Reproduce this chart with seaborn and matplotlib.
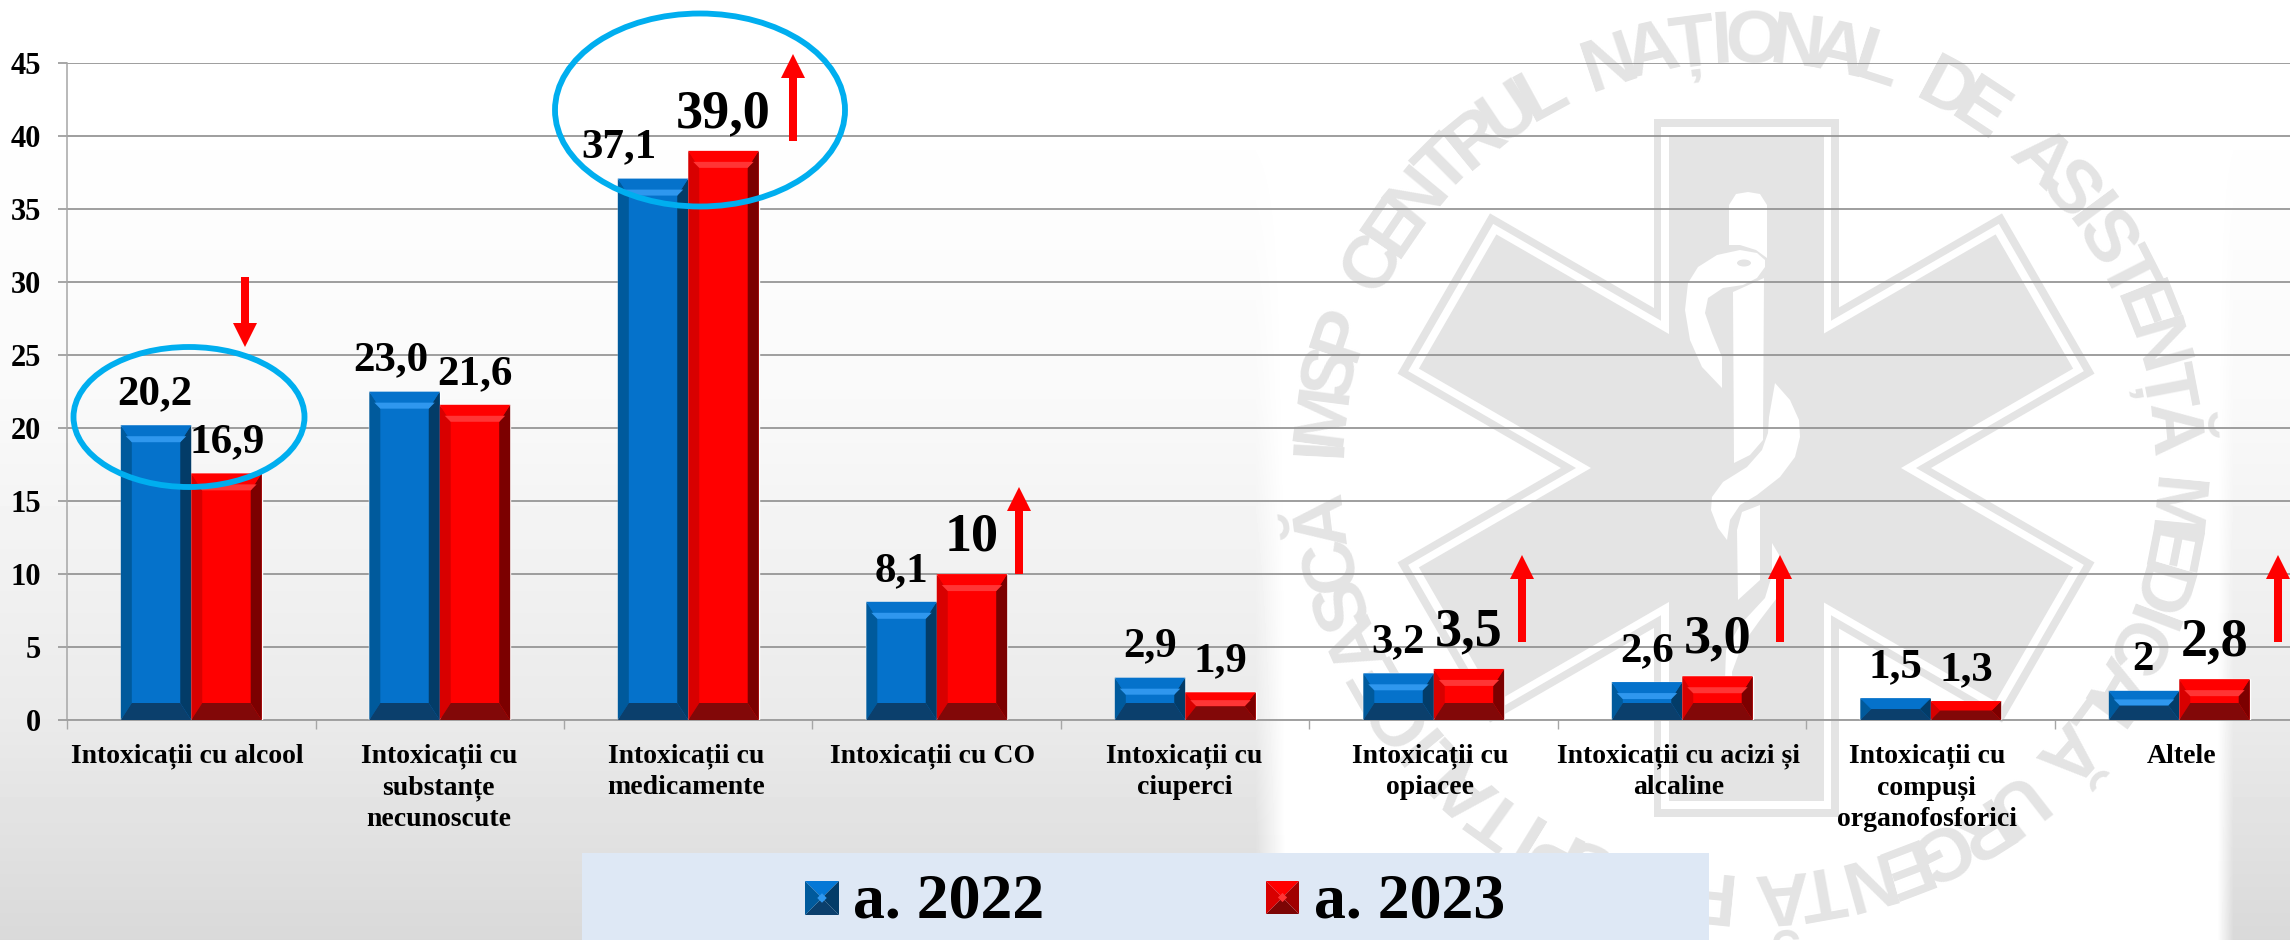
import numpy as np
import pandas as pd
import seaborn as sns
import matplotlib
matplotlib.use('Agg')
import matplotlib.pyplot as plt
from matplotlib.patches import Polygon, Ellipse, Rectangle
from matplotlib.transforms import Affine2D, ScaledTranslation
from matplotlib.textpath import TextPath
from matplotlib.font_manager import FontProperties

# data
categories = ['Intoxicații cu alcool', 'Intoxicații cu\nsubstanțe\nnecunoscute',
              'Intoxicații cu\nmedicamente', 'Intoxicații cu CO',
              'Intoxicații cu\nciuperci', 'Intoxicații cu\nopiacee',
              'Intoxicații cu acizi și\nalcaline',
              'Intoxicații cu\ncompuși\norganofosforici', 'Altele']
years = ['a. 2022', 'a. 2023']
values_2022 = [20.2, 22.5, 37.1, 8.1, 2.9, 3.2, 2.6, 1.5, 2.0]
values_2023 = [16.9, 21.6, 39.0, 10.0, 1.9, 3.5, 3.0, 1.3, 2.8]
labels_2022 = ['20,2', '23,0', '37,1', '8,1', '2,9', '3,2', '2,6', '1,5', '2']
labels_2023 = ['16,9', '21,6', '39,0', '10', '1,9', '3,5', '3,0', '1,3', '2,8']
y_ticks = [0, 5, 10, 15, 20, 25, 30, 35, 40, 45]

# label nudges in pixels, the big labels are the ones that went up
dx_2022 = [-1, -14, -34, 0, 0, 0, 0, 0, -1]
dx_2023 = [1, 0, 0, 0, 0, 0, 0, 0, 0]
big_2023 = [False, False, True, True, False, True, True, False, True]
dx_cat = [-4, -1, -2, -4, -1, -4, -4, -4, 2]

W, H = 2290, 940
AX_LEFT, AX_RIGHT, AX_TOP, AX_BOTTOM = 67, 2290, 63.3, 720
CAT_W = 248.5
SERIF = 'Liberation Serif'
GREY = '#8e8e8e'
STAR = '#e4e4e4'

sns.set_theme(style='white')
plt.rcParams['font.family'] = [SERIF, 'DejaVu Sans']

df = pd.DataFrame({
    'cat': categories * 2,
    'year': [years[0]] * 9 + [years[1]] * 9,
    'val': values_2022 + values_2023,
})

fig = plt.figure(figsize=(W / 100, H / 100), dpi=100)


def px_axes(zorder):
    a = fig.add_axes([0, 0, 1, 1], zorder=zorder)
    a.set_xlim(0, W)
    a.set_ylim(H, 0)
    a.axis('off')
    return a


# background: grey gradient, white panel behind the logo
bg = px_axes(0)
yy = np.arange(H)
xx = np.arange(W)
shade = np.interp(yy, [0, 150, 400, 720, 940], [255, 254, 249, 234, 217])
fade = np.clip((xx - 1255) / 30, 0, 1) * np.clip((2233 - xx) / 16, 0, 1)
img = shade[:, None] + (255 - shade[:, None]) * fade[None, :]
bg.imshow(img, cmap='gray', vmin=0, vmax=255, extent=(0, W, H, 0), aspect='auto')

# logo star
cx, cy = 1746, 468
for half_w, half_l, col in [(92.5, 349, STAR), (85, 341, 'white'), (77.5, 333, STAR)]:
    for rot in [0, 60, 120]:
        r = Rectangle((cx - half_w, cy - half_l), 2 * half_w, 2 * half_l, fc=col, ec='none')
        r.set_transform(Affine2D().rotate_deg_around(cx, cy, rot) + bg.transData)
        bg.add_patch(r)

# rod and snake
snake_parts = [
    [(1729, 245), (1729, 205), (1736, 194), (1748, 192), (1760, 194), (1767, 205), (1767, 258), (1756, 250), (1740, 245)],
    [(1733, 292), (1764, 278), (1763, 440), (1750, 455), (1734, 463)],
    [(1765, 260), (1757, 253), (1740, 250), (1717, 255), (1698, 267), (1688, 283), (1685, 310), (1690, 340),
     (1702, 367), (1722, 388), (1722, 357), (1712, 333), (1705, 313), (1708, 298), (1723, 288), (1743, 285), (1757, 278), (1765, 267)],
    [(1775, 383), (1790, 400), (1799, 420), (1800, 437), (1795, 457), (1780, 477), (1757, 495), (1740, 505),
     (1730, 520), (1727, 540), (1718, 528), (1711, 510), (1712, 497), (1723, 482), (1747, 467), (1762, 450), (1768, 433), (1769, 417)],
    [(1737, 530), (1742, 512), (1760, 505), (1760, 580), (1738, 600)],
    [(1772, 543), (1785, 565), (1783, 590), (1760, 620), (1742, 645), (1732, 672), (1733, 700), (1725, 680), (1726, 650), (1740, 625), (1765, 598), (1772, 575)],
]
for part in snake_parts:
    bg.add_patch(Polygon(part, fc='white', ec='none'))
bg.add_patch(Ellipse((1744, 263), 14, 7, fc=STAR, ec='none'))

# ring text, spaced by glyph widths
ring = 'IMSP CENTRUL NAȚIONAL DE ASISTENȚĂ MEDICALĂ URGENTĂ PRESPITALICEASCĂ'
ring_fp = FontProperties(family=['Liberation Sans Narrow', 'Liberation Sans'], weight='bold', size=54)
widths = []
for ch in ring:
    widths.append(TextPath((0, 0), 'n' if ch == ' ' else ch, prop=ring_fp).get_extents().width + 16)
mids = np.cumsum(widths) - np.array(widths) / 2
mids = (mids - mids[0]) / (mids[-1] - mids[0])
for ch, m in zip(ring, mids):
    ang = -87 + m * 350
    a = np.radians(ang)
    bg.text(cx + 406 * np.sin(a), cy - 406 * np.cos(a), ch, fontproperties=ring_fp, color=STAR,
            rotation=-ang, rotation_mode='anchor', ha='center', va='baseline')

# chart
ax = fig.add_axes([AX_LEFT / W, 1 - AX_BOTTOM / H, (AX_RIGHT - AX_LEFT) / W, (AX_BOTTOM - AX_TOP) / H], zorder=1)
ax.patch.set_alpha(0)
sns.barplot(data=df, x='cat', y='val', hue='year', palette=['#0572cb', '#ff0000'], width=0.567,
            gap=0, saturation=1, legend=False, ax=ax, zorder=3)
ax.set_xlabel('')
ax.set_ylabel('')
ax.set_yticks(y_ticks)
ax.set_xticks(range(9))
ax.set_xticklabels(categories, fontsize=20, fontweight='bold', linespacing=1.33, color='black')
ax.set_xticks(np.arange(-0.5, 9, 1), minor=True)
# set_xticks widens the view, so the limits go after it
ax.set_xlim(-0.5, -0.5 + (AX_RIGHT - AX_LEFT) / CAT_W)
ax.set_ylim(0, 45)
ax.tick_params(axis='x', which='major', length=0, pad=17)
ax.tick_params(axis='x', which='minor', length=6.5, width=1, color='#a6a6a6', bottom=True)
ax.tick_params(axis='y', length=6.5, width=1.1, color=GREY, pad=12, left=True)
for t, d in zip(ax.get_xticklabels(), dx_cat):
    t.set_transform(t.get_transform() + ScaledTranslation(d / 100, 0, fig.dpi_scale_trans))
for t in ax.get_yticklabels():
    t.set_fontsize(22)
    t.set_fontweight('bold')
    t.set_color('black')
ax.grid(axis='y', color=GREY, lw=1.2)
ax.set_axisbelow(True)
sns.despine(ax=ax, top=True, right=True)
ax.spines['left'].set_color('#a6a6a6')
ax.spines['bottom'].set_color('#a0a0a0')
ax.spines['left'].set_linewidth(1.1)
ax.spines['bottom'].set_linewidth(1.4)

px_x = 1 / CAT_W
px_y = 45 / (AX_BOTTOM - AX_TOP)
blue_bevel = dict(left='#005a9c', right='#033c68', top='#0572cb', glow='#2f97ee', bottom='#0b3f6c')
red_bevel = dict(left='#d80000', right='#7c0000', top='#ff0000', glow='#ff3535', bottom='#820808')


def bevel(bar, c):
    x0, x1 = bar.get_x(), bar.get_x() + bar.get_width()
    y1 = bar.get_height()
    b_y = min(17, y1 / px_y / 2)
    b_x = min(11, b_y)
    ix0, ix1 = x0 + b_x * px_x, x1 - b_x * px_x
    iy0, iy1 = b_y * px_y, y1 - b_y * px_y
    shapes = [
        ([(x0, 0), (ix0, iy0), (ix0, iy1), (x0, y1)], c['left']),
        ([(x1, 0), (ix1, iy0), (ix1, iy1), (x1, y1)], c['right']),
        ([(x0, y1), (x1, y1), (ix1, iy1), (ix0, iy1)], c['top']),
        ([(x0, 0), (x1, 0), (ix1, iy0), (ix0, iy0)], c['bottom']),
    ]
    if b_y >= 12:
        g = 6 * px_y
        gx = 6 * px_x
        shapes.append(([(ix0 - gx, iy1 + g), (ix1 + gx, iy1 + g), (ix1, iy1), (ix0, iy1)], c['glow']))
    for pts, col in shapes:
        ax.add_patch(Polygon(pts, fc=col, ec='none', zorder=4))


for cont, c, labs, dxs, bigs in [
    (ax.containers[0], blue_bevel, labels_2022, dx_2022, [False] * 9),
    (ax.containers[1], red_bevel, labels_2023, dx_2023, big_2023),
]:
    for bar, lab, dx, big in zip(cont, labs, dxs, bigs):
        bevel(bar, c)
        ax.annotate(lab, xy=(bar.get_x() + bar.get_width() / 2, bar.get_height()),
                    xytext=(dx, 24 if big else 21), textcoords='offset pixels',
                    ha='center', va='baseline', fontsize=39 if big else 31,
                    fontweight='bold', color='black', zorder=5, annotation_clip=False)

# overlay: circles, arrows and the legend strip
top = px_axes(2)
top.patch.set_alpha(0)
for (ex, ey, ew, eh) in [(189, 417, 231, 140), (700, 110, 290, 193)]:
    top.add_patch(Ellipse((ex, ey), ew, eh, fc='none', ec='#00aeef', lw=4.2))


def arrow(x, tail, tip):
    d = 1 if tip > tail else -1
    neck = tip - d * 24
    top.add_patch(Polygon([(x - 4, tail), (x + 4, tail), (x + 4, neck), (x + 12, neck), (x, tip),
                           (x - 12, neck), (x - 4, neck)], fc='#ff0000', ec='none'))


arrow(245, 277, 347)
arrow(793, 141, 54)
arrow(1019, 574, 487)
arrow(1522, 642, 555)
arrow(1780, 642, 555)
arrow(2278, 642, 555)

top.add_patch(Rectangle((582, 853), 1127, 87, fc='#dee8f5', ec='none'))


def swatch(x, y, s, left, right, up, down, centre):
    m = (x + s / 2, y + s / 2)
    top.add_patch(Polygon([(x, y), (x + s, y), m], fc=up, ec='none'))
    top.add_patch(Polygon([(x, y + s), (x + s, y + s), m], fc=down, ec='none'))
    top.add_patch(Polygon([(x, y), (x, y + s), m], fc=left, ec='none'))
    top.add_patch(Polygon([(x + s, y), (x + s, y + s), m], fc=right, ec='none'))
    k = s * 0.14
    top.add_patch(Polygon([(m[0], m[1] - k), (m[0] + k, m[1]), (m[0], m[1] + k), (m[0] - k, m[1])], fc=centre, ec='none'))


swatch(805, 881, 34, '#005a9c', '#033c68', '#0578d6', '#0b3f6c', '#2f97ee')
swatch(1266, 881, 33, '#d80000', '#a00000', '#ff0000', '#7c0505', '#ff3535')
top.text(853, 917, years[0], fontsize=46, fontweight='bold', color='black', ha='left', va='baseline')
top.text(1314, 917, years[1], fontsize=46, fontweight='bold', color='black', ha='left', va='baseline')

fig.savefig('out.png', dpi=100)
